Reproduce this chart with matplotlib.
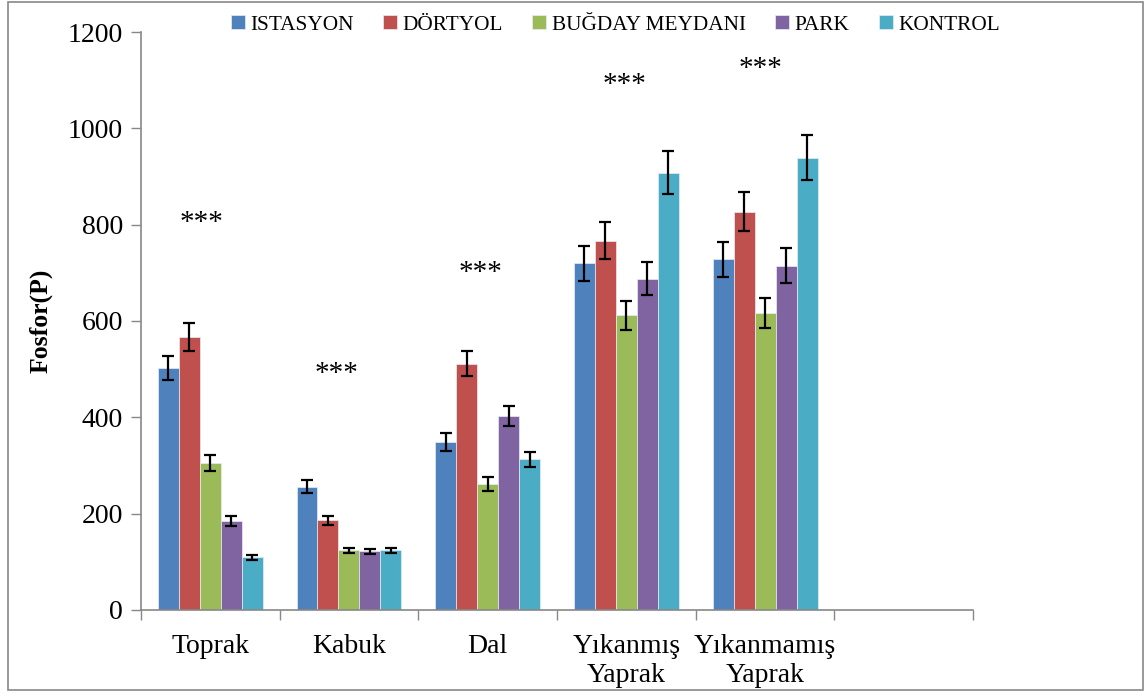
import numpy as np
import matplotlib
matplotlib.use("Agg")
import matplotlib.pyplot as plt
from matplotlib.patches import Rectangle

plt.rcParams['font.family'] = ['Liberation Serif', 'DejaVu Serif']

categories = ["Toprak", "Kabuk", "Dal", "Yıkanmış\nYaprak", "Yıkanmamış\nYaprak", ""]
series_names = ["ISTASYON", "DÖRTYOL", "BUĞDAY MEYDANI", "PARK", "KONTROL"]
colors = ["#4F81BD", "#C0504D", "#9BBB59", "#8064A2", "#4BACC6"]

istasyon = [502, 256, 349, 720, 728]
istasyon_err = [25, 13, 18, 36, 36]
dortyol = [567, 186, 511, 767, 827]
dortyol_err = [29, 10, 26, 38, 41]
bugday = [305, 124, 262, 612, 617]
bugday_err = [16, 5, 14, 30, 31]
park = [185, 122, 403, 688, 715]
park_err = [10, 5, 20, 34, 36]
kontrol = [109, 124, 313, 908, 939]
kontrol_err = [6, 5, 16, 45, 47]

values = [istasyon, dortyol, bugday, park, kontrol]
errors = [istasyon_err, dortyol_err, bugday_err, park_err, kontrol_err]

# significance markers above each group
star_labels = ["***", "***", "***", "***", "***"]
star_y = [803, 490, 700, 1090, 1123]
star_x_offset = [-0.067, -0.087, -0.055, -0.01, -0.036]

fig = plt.figure(figsize=(11.48, 6.93), dpi=100)
ax = fig.add_axes([0.1228, 0.1198, 0.7248, 0.834])

n_series = len(values)
bar_w = 0.1514
x0 = np.arange(len(values[0])) + 0.5
for i, (vals, errs, col, name) in enumerate(zip(values, errors, colors, series_names)):
    xs = x0 + (i - (n_series - 1) / 2) * bar_w
    ax.bar(xs, vals, width=bar_w, color=col, edgecolor="#e8eef5", linewidth=0.5,
           label=name, zorder=2)
    ax.errorbar(xs, vals, yerr=errs, fmt="none", ecolor="black", elinewidth=1.6,
                capsize=4.0, capthick=1.6, zorder=3)

for x, y, s, dx in zip(x0, star_y, star_labels, star_x_offset):
    ax.text(x + dx, y, s, ha="center", va="center", fontsize=21)

ax.set_xlim(0, len(categories))
ax.set_ylim(0, 1200)
ax.set_yticks(np.arange(0, 1201, 200))
ax.tick_params(axis="y", labelsize=20, length=7, width=1, color="#888888",
               direction="out", pad=6)
ax.set_xticks(np.arange(0, len(categories) + 1))
ax.set_xticklabels([])
ax.set_xticks(np.arange(len(categories)) + 0.5, minor=True)
ax.set_xticklabels(categories, minor=True, fontsize=20, linespacing=1.25)
ax.tick_params(axis="x", which="major", length=7, width=1, color="#888888",
               direction="out")
ax.tick_params(axis="x", which="minor", length=0, pad=17)

for side in ("top", "right"):
    ax.spines[side].set_visible(False)
for side in ("left", "bottom"):
    ax.spines[side].set_color("#888888")
    ax.spines[side].set_linewidth(1.2)

ax.set_ylabel("Fosfor(P)", fontsize=18.5, fontweight="bold", labelpad=11)

fig.legend(loc="center", bbox_to_anchor=(0.536, 0.964), ncol=5, frameon=False,
           fontsize=15.3, handlelength=0.65, handleheight=0.65, handletextpad=0.25,
           columnspacing=1.4)

fig.patches.append(Rectangle((0.007, 0.004), 0.989, 0.993, transform=fig.transFigure,
                             fill=False, edgecolor="#888888", linewidth=1.2))

fig.savefig("out.png", dpi=100)
